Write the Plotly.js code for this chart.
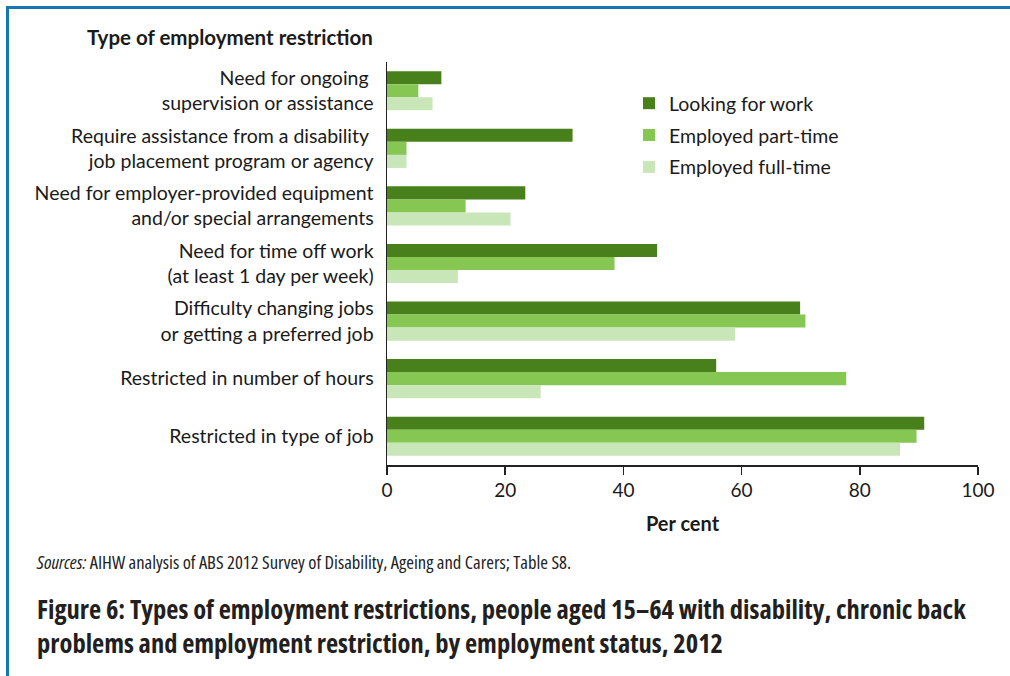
<!DOCTYPE html>
<html>
<head>
<meta charset="utf-8">
<script src="https://cdn.plot.ly/plotly-3.0.1.min.js"></script>
<style>
  html, body { margin: 0; padding: 0; background: #fff; }
  #chart { width: 1010px; height: 676px; }
  g.annotation[data-index="1"] text { font-stretch: 75%; }
  g.annotation[data-index="2"] text { font-stretch: 75%; }
</style>
</head>
<body>
<div id="chart"></div>
<script>
// ---- Data ----
const categories = [
  "Need for ongoing <br>supervision or assistance",
  "Require assistance from a disability <br>job placement program or agency",
  "Need for employer-provided equipment<br>and/or special arrangements",
  "Need for time off work<br>(at least 1 day per week)",
  "Difficulty changing jobs<br>or getting a preferred job",
  "Restricted in number of hours",
  "Restricted in type of job"
];
const seriesNames = ["Looking for work", "Employed part-time", "Employed full-time"];
const lookingForWork   = [9.2, 31.4, 23.4, 45.7, 69.9, 55.7, 90.9];
const employedPartTime = [5.3, 3.3, 13.3, 38.5, 70.8, 77.7, 89.6];
const employedFullTime = [7.7, 3.3, 20.9, 12.0, 58.9, 26.0, 86.8];
const xTicks = [0, 20, 40, 60, 80, 100];

const colors = ["#48801c", "#85c752", "#c9e6b8"];
const seriesValues = [lookingForWork, employedPartTime, employedFullTime];

const mainFont = "Lato, 'Open Sans', sans-serif";
const condFont = "'Open Sans', 'Noto Sans', sans-serif";

const traces = seriesValues.map((vals, i) => ({
  type: "bar",
  orientation: "h",
  name: seriesNames[i],
  x: vals,
  y: categories,
  marker: { color: colors[i], line: { width: 0 } },
  legendgroup: "g" + i,
  hoverinfo: "x+name"
}));

// paper-coordinate helpers for the plot area geometry
const L = 387, R = 32, T = 62, B = 211, W = 1010, H = 676;
const pw = W - L - R, ph = H - T - B;
const px = v => (v - L) / pw;
const py = v => (H - B - v) / ph;

const frameColor = "#1676af";

const layout = {
  width: W, height: H,
  margin: { l: L, r: R, t: T, b: B, pad: 0 },
  paper_bgcolor: "#ffffff",
  plot_bgcolor: "#ffffff",
  barmode: "group",
  bargap: 0.32,
  bargroupgap: 0,
  font: { family: mainFont, size: 19, color: "#1a1a1a" },
  xaxis: {
    range: [0, 100],
    tickvals: xTicks,
    ticktext: xTicks.map(String),
    ticks: "outside",
    ticklen: 8,
    tickwidth: 1.5,
    tickcolor: "#222",
    showline: true,
    linecolor: "#222",
    linewidth: 1.5,
    showgrid: false,
    zeroline: false,
    tickfont: { family: mainFont, size: 19, color: "#1a1a1a" },
    title: { text: "<b>Per cent</b>", font: { family: mainFont, size: 20, color: "#1a1a1a" }, standoff: 16 },
    fixedrange: true
  },
  yaxis: {
    type: "category",
    autorange: false,
    range: [6.5, -0.5],
    showline: true,
    linecolor: "#222",
    linewidth: 1.5,
    ticks: "",
    showgrid: false,
    zeroline: false,
    ticklabelstandoff: 8,
    tickfont: { family: mainFont, size: 19.5, color: "#1a1a1a" },
    fixedrange: true
  },
  showlegend: true,
  legend: {
    x: px(629), xanchor: "left",
    y: py(84), yanchor: "top",
    bgcolor: "rgba(0,0,0,0)",
    font: { family: mainFont, size: 19.5, color: "#1a1a1a" },
    traceorder: "grouped",
    tracegroupgap: 3.5,
    itemclick: false, itemdoubleclick: false
  },
  annotations: [
    {
      xref: "paper", yref: "paper",
      x: px(375), y: py(37), xanchor: "right", yanchor: "middle",
      text: "<b>Type of employment restriction</b>",
      showarrow: false,
      font: { family: mainFont, size: 20.5, color: "#1a1a1a" }
    },
    {
      xref: "paper", yref: "paper",
      x: px(35), y: py(561), xanchor: "left", yanchor: "middle",
      align: "left",
      text: "<i>Sources:</i> AIHW analysis of ABS 2012 Survey of Disability, Ageing and Carers; Table S8.",
      showarrow: false,
      font: { family: condFont, size: 18.6, color: "#222" }
    },
    {
      xref: "paper", yref: "paper",
      x: px(35), y: py(626), xanchor: "left", yanchor: "middle",
      align: "left",
      text: "<b>Figure 6: Types of employment restrictions, people aged 15–64 with disability, chronic back<br>problems and employment restriction, by employment status, 2012</b>",
      showarrow: false,
      font: { family: condFont, size: 26.5, color: "#231f20" }
    }
  ],
  shapes: [
    {
      type: "line", xref: "paper", yref: "paper",
      x0: px(6), x1: px(1012), y0: py(7.5), y1: py(7.5),
      line: { color: frameColor, width: 3 }
    },
    {
      type: "line", xref: "paper", yref: "paper",
      x0: px(7.5), x1: px(7.5), y0: py(6), y1: py(680),
      line: { color: frameColor, width: 3 }
    }
  ]
};

Plotly.newPlot("chart", traces, layout, { displayModeBar: false, staticPlot: true });
</script>
</body>
</html>
